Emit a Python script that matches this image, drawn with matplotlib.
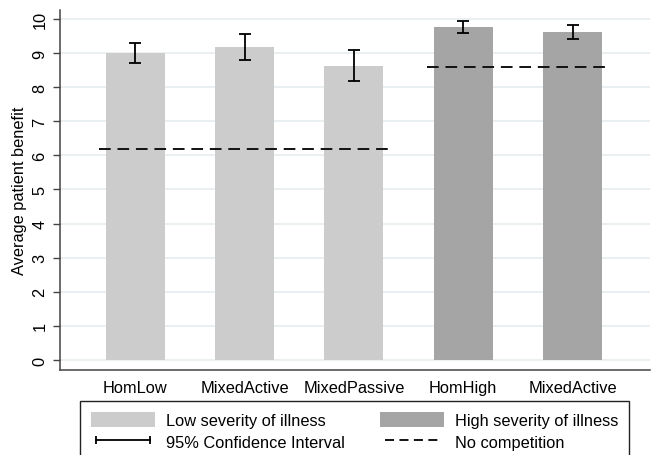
import numpy as np
import matplotlib.pyplot as plt
from matplotlib.patches import Patch
from matplotlib.lines import Line2D

plt.rc("font", family="Liberation Sans", size=11.8)

groups = ["HomLow", "MixedActive", "MixedPassive", "HomHigh", "MixedActive"]
benefit = [9.00, 9.19, 8.63, 9.77, 9.63]
ci_low = [8.71, 8.80, 8.17, 9.59, 9.40]
ci_high = [9.28, 9.57, 9.10, 9.94, 9.82]
severity = ["low", "low", "low", "high", "high"]
no_comp_low = 6.19
no_comp_high = 8.60

light = "#cccccc"
dark = "#a5a5a5"

x = np.arange(len(groups))
colors = [light if s == "low" else dark for s in severity]
err = [np.array(benefit) - np.array(ci_low), np.array(ci_high) - np.array(benefit)]

fig = plt.figure(figsize=(6.6, 4.56), dpi=100)
ax = fig.add_axes([0.091, 0.186, 0.894, 0.789])

ax.bar(x, benefit, width=0.54, color=colors, zorder=2)
ax.errorbar(x, benefit, yerr=err, fmt="none", ecolor="black", elinewidth=1.3,
            capsize=4.5, capthick=1.3, zorder=3)

# no-competition benchmarks, one per severity group
dash = dict(color="#111111", lw=1.4, ls=(0, (6, 3.5)), zorder=4)
ax.plot([-0.335, 2.32], [no_comp_low] * 2, **dash)
ax.plot([2.665, 4.345], [no_comp_high] * 2, **dash)

ax.set_xlim(-0.69, 4.71)
ax.set_ylim(-0.30, 10.25)
ax.set_yticks(range(0, 11))
ax.set_xticks(x)
ax.set_xticklabels(groups)
ax.tick_params(axis="x", length=0, pad=7)
ax.tick_params(axis="y", length=5, width=1, color="#444444", pad=4)
for lab in ax.get_yticklabels():
    lab.set_rotation(90)
    lab.set_va("center")
ax.set_ylabel("Average patient benefit", labelpad=4)

ax.grid(axis="y", color="#e6eeef", lw=1.2, zorder=0)
for s in ["top", "right"]:
    ax.spines[s].set_visible(False)
for s in ["left", "bottom"]:
    ax.spines[s].set_color("#444444")
    ax.spines[s].set_linewidth(1.1)

handles = [
    Patch(facecolor=light),
    Line2D([], [], color="black", lw=1.3, marker="|", markersize=6, markeredgewidth=1.3),
    Patch(facecolor=dark),
    Line2D([], [], color="black", lw=1.3, ls=(0, (5, 3))),
]
labels = ["Low severity of illness", "95% Confidence Interval",
          "High severity of illness", "No competition"]
# legend box sits below the axis and runs off the bottom edge
leg = fig.legend(handles, labels, ncol=2, loc="upper left",
                 bbox_to_anchor=(80 / 660, 1 - 402 / 456, 549 / 660, 0),
                 mode="expand", numpoints=2, handlelength=3.9, handleheight=1.05,
                 handletextpad=0.7, labelspacing=0.35, borderpad=0.65,
                 borderaxespad=0, fancybox=False, edgecolor="#222222", framealpha=1)
leg.get_frame().set_linewidth(1.0)

fig.savefig("out.png", dpi=100)
